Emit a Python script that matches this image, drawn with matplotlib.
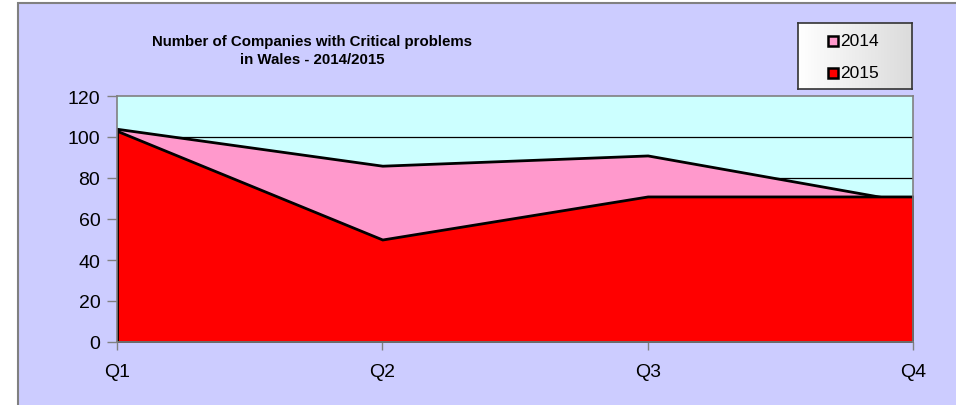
import numpy as np
import matplotlib
matplotlib.use("Agg")
import matplotlib.pyplot as plt
from matplotlib.patches import Rectangle
from matplotlib.lines import Line2D

plt.rcParams['font.family'] = ['Liberation Sans', 'DejaVu Sans']

quarters = ["Q1", "Q2", "Q3", "Q4"]
series_names = ["2014", "2015"]
values_2014 = [104, 86, 91, 68]
values_2015 = [103, 50, 71, 71]
y_ticks = [0, 20, 40, 60, 80, 100, 120]
title = "Number of Companies with Critical problems\nin Wales - 2014/2015"

colors = {"2014": "#FF99CC", "2015": "#FF0000"}

W, H = 956, 406
fig = plt.figure(figsize=(W / 100, H / 100), dpi=100)
fig.patch.set_facecolor("white")

# chart area background with its frame
fig.patches.append(Rectangle((18 / W, -0.2), 1.2, 1.2 - 4 / H,
                             transform=fig.transFigure, facecolor="#CCCCFF",
                             edgecolor="#808080", linewidth=1.5, zorder=-10))

ax = fig.add_axes([117 / W, 1 - 343 / H, (913 - 117) / W, (343 - 97) / H])
ax.set_zorder(2)
ax.set_facecolor("#CCFFFF")

x = np.arange(len(quarters))
ax.set_xlim(0, len(quarters) - 1)
ax.set_ylim(min(y_ticks), max(y_ticks))

for yt in y_ticks[1:-1]:
    ax.axhline(yt, color="black", linewidth=0.9, zorder=1)

for name, vals in zip(series_names, [values_2014, values_2015]):
    ax.fill_between(x, 0, vals, facecolor=colors[name], edgecolor="black",
                    linewidth=2.0, zorder=2, joinstyle="miter")

ax.set_xticks(x)
ax.set_xticklabels(quarters, fontsize=14)
ax.set_yticks(y_ticks)
ax.set_yticklabels([str(v) for v in y_ticks], fontsize=14)
ax.tick_params(axis="y", direction="out", length=7, width=1, color="#808080", pad=5)
ax.tick_params(axis="x", direction="out", length=6, width=1, color="#808080", pad=9)
for sp in ax.spines.values():
    sp.set_color("#808080")
    sp.set_linewidth(1.2)
    sp.set_zorder(3)

fig.text(312 / W, 1 - 51 / H, title, ha="center", va="center",
         multialignment="center", fontsize=10.8, fontweight="bold",
         linespacing=1.3, zorder=5)

# legend box with a light horizontal gradient
lax = fig.add_axes([798 / W, 1 - 90 / H, 114 / W, 66 / H])
lax.set_zorder(3)
grad = np.linspace(1.0, 0.86, 256).reshape(1, -1)
lax.imshow(np.dstack([grad, grad, grad]), aspect="auto", extent=[0, 1, 0, 1])
lax.set_xlim(0, 1)
lax.set_ylim(0, 1)
lax.set_xticks([])
lax.set_yticks([])
for sp in lax.spines.values():
    sp.set_color("#333333")
    sp.set_linewidth(1.2)
row_y = [1 - (41.5 - 24) / 66, 1 - (73.5 - 24) / 66]
for name, yy in zip(series_names, row_y):
    lax.add_line(Line2D([(833 - 798) / 114], [yy], marker="s", markersize=7.5,
                        markerfacecolor=colors[name], markeredgecolor="black",
                        markeredgewidth=1.8, linestyle="none"))
    lax.text((840 - 798) / 114, yy, name, fontsize=12.5, va="center", ha="left")

fig.savefig("out.png", dpi=100)
